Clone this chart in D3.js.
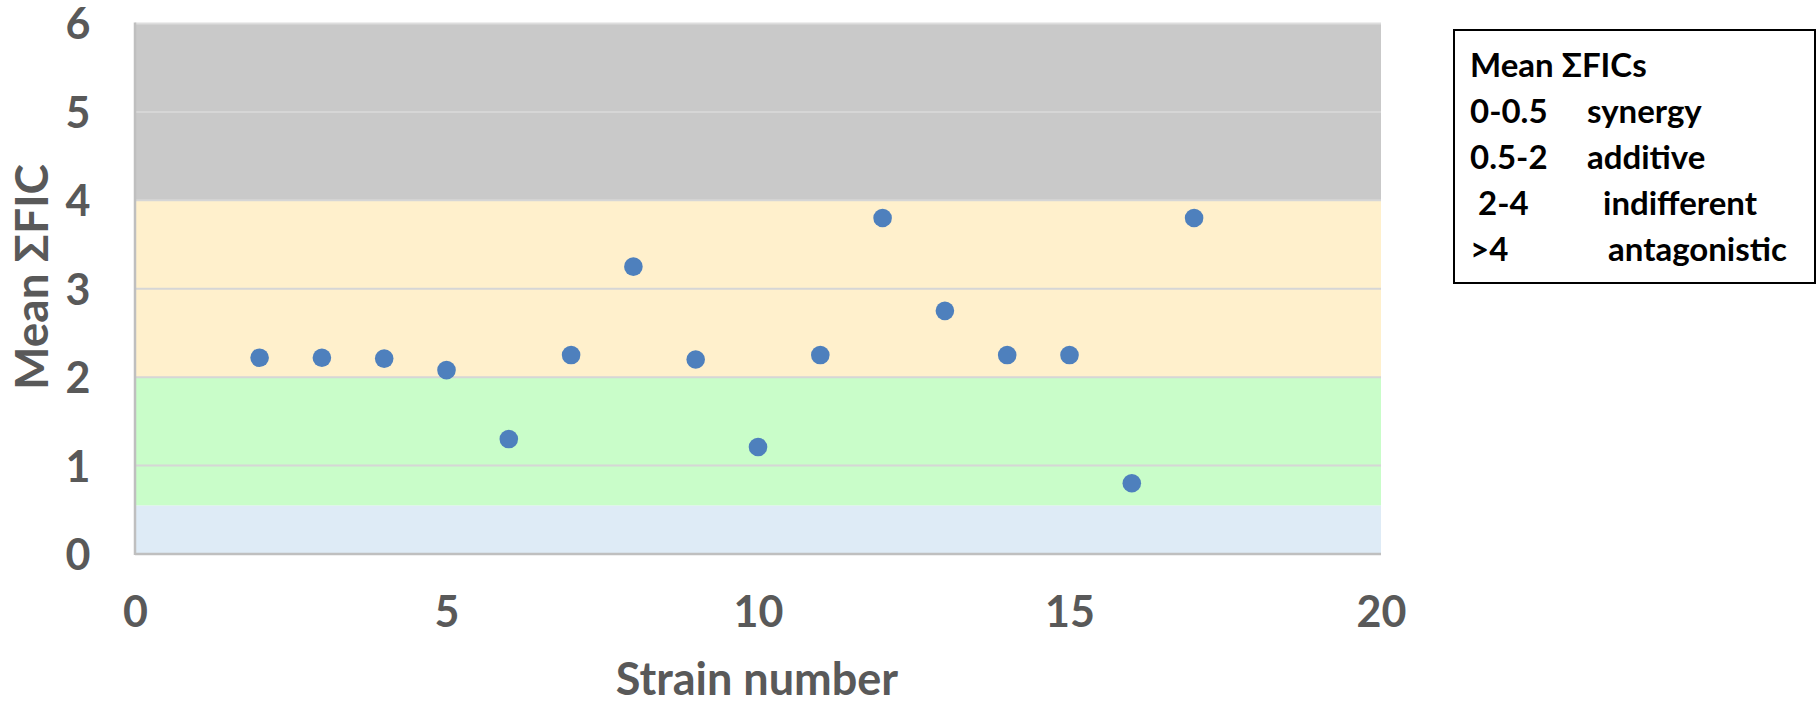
<!DOCTYPE html>
<html>
<head>
<meta charset="utf-8">
<script src="https://cdn.jsdelivr.net/npm/d3@7"></script>
<style>
  html, body { margin: 0; padding: 0; background: #ffffff; }
  svg { display: block; }
  text { font-family: Lato, "Open Sans", sans-serif; font-weight: bold; }
</style>
</head>
<body>
<svg id="chart" width="1820" height="702"></svg>
<script>
// ---- data ----
const strains = [2, 3, 4, 5, 6, 7, 8, 9, 10, 11, 12, 13, 14, 15, 16, 17];
const meanFIC = [2.22, 2.22, 2.21, 2.08, 1.30, 2.25, 3.25, 2.20, 1.21, 2.25, 3.80, 2.75, 2.25, 2.25, 0.80, 3.80];
const xTicks = [0, 5, 10, 15, 20];
const yTicks = [0, 1, 2, 3, 4, 5, 6];
const bandLower = [0, 0.55, 2, 4];
const bandUpper = [0.55, 2, 4, 6];
const bandColors = ["#deebf6", "#c9fdc9", "#fff0cc", "#c9c9c9"];
const legendTitle = "Mean ΣFICs";
const legendRanges = ["0-0.5", "0.5-2", " 2-4", ">4"];
const legendNames = ["synergy", "additive", "indifferent", "antagonistic"];
const xTitle = "Strain number";
const yTitle = "Mean ΣFIC";

// ---- layout ----
const svg = d3.select("#chart");
const plot = { left: 135, right: 1381, top: 23.5, bottom: 554 };
const x = d3.scaleLinear().domain([0, 20]).range([plot.left, plot.right]);
const y = d3.scaleLinear().domain([0, 6]).range([plot.bottom, plot.top]);
const textGray = "#595959";

// bands
svg.append("g").selectAll("rect")
  .data(bandLower.map((lo, i) => ({ lo, hi: bandUpper[i], c: bandColors[i] })))
  .join("rect")
  .attr("x", x(0))
  .attr("width", x(20) - x(0))
  .attr("y", d => y(d.hi))
  .attr("height", d => y(d.lo) - y(d.hi))
  .attr("fill", d => d.c);

// gridlines
svg.append("g").selectAll("line")
  .data(yTicks.filter(t => t > 0))
  .join("line")
  .attr("x1", x(0)).attr("x2", x(20))
  .attr("y1", d => y(d)).attr("y2", d => y(d))
  .attr("stroke", d => d === 6 ? "#dedede" : "#d6d6d6")
  .attr("stroke-width", 2);

// axes lines (left and bottom)
svg.append("line")
  .attr("x1", x(0)).attr("x2", x(0))
  .attr("y1", y(6) - 1).attr("y2", y(0) + 1)
  .attr("stroke", "#bfbfbf").attr("stroke-width", 2.5);
svg.append("line")
  .attr("x1", x(0)).attr("x2", x(20))
  .attr("y1", y(0)).attr("y2", y(0))
  .attr("stroke", "#bfbfbf").attr("stroke-width", 2.5);

// y axis tick labels
const yAxis = d3.axisLeft(y).tickValues(yTicks).tickSize(0).tickPadding(0).tickFormat(d3.format("d"));
const gy = svg.append("g").attr("transform", `translate(${78},0)`).call(yAxis);
gy.select(".domain").remove();
gy.selectAll("text")
  .attr("text-anchor", "middle")
  .attr("x", 0)
  .attr("dy", "0.36em")
  .attr("fill", textGray)
  .style("font-size", "43px")
  .style("font-family", "Lato, 'Open Sans', sans-serif")
  .style("font-weight", "bold");

// x axis tick labels
const xAxis = d3.axisBottom(x).tickValues(xTicks).tickSize(0).tickPadding(0).tickFormat(d3.format("d"));
const gx = svg.append("g").attr("transform", `translate(0,${612})`).call(xAxis);
gx.select(".domain").remove();
gx.selectAll("text")
  .attr("y", 0)
  .attr("dy", "0.36em")
  .attr("fill", textGray)
  .style("font-size", "43px")
  .style("font-family", "Lato, 'Open Sans', sans-serif")
  .style("font-weight", "bold");

// axis titles
svg.append("text")
  .attr("x", 757).attr("y", 695)
  .attr("text-anchor", "middle")
  .attr("fill", textGray)
  .style("font-size", "45px")
  .text(xTitle);

svg.append("text")
  .attr("transform", `translate(31,277) rotate(-90)`)
  .attr("text-anchor", "middle")
  .attr("dy", "0.36em")
  .attr("fill", textGray)
  .style("font-size", "46px")
  .text(yTitle);

// points
svg.append("g").selectAll("circle")
  .data(strains.map((s, i) => ({ s, v: meanFIC[i] })))
  .join("circle")
  .attr("cx", d => x(d.s))
  .attr("cy", d => y(d.v))
  .attr("r", 9.3)
  .attr("fill", "#4e80bd");

// legend box
const lg = svg.append("g");
lg.append("rect")
  .attr("x", 1454).attr("y", 30)
  .attr("width", 361).attr("height", 253)
  .attr("fill", "#ffffff")
  .attr("stroke", "#000000").attr("stroke-width", 2);

const rowY = [65, 111, 157, 203, 249];
lg.append("text")
  .attr("x", 1470).attr("y", rowY[0]).attr("dy", "0.36em")
  .attr("fill", "#000").style("font-size", "33px")
  .text(legendTitle);
const descX = [1587, 1587, 1603, 1608];
legendRanges.forEach((r, i) => {
  lg.append("text")
    .attr("x", 1470).attr("y", rowY[i + 1]).attr("dy", "0.36em")
    .attr("fill", "#000").style("font-size", "33px")
    .attr("xml:space", "preserve")
    .style("white-space", "pre")
    .text(r);
  lg.append("text")
    .attr("x", descX[i]).attr("y", rowY[i + 1]).attr("dy", "0.36em")
    .attr("fill", "#000").style("font-size", "33px")
    .text(legendNames[i]);
});
</script>
</body>
</html>
